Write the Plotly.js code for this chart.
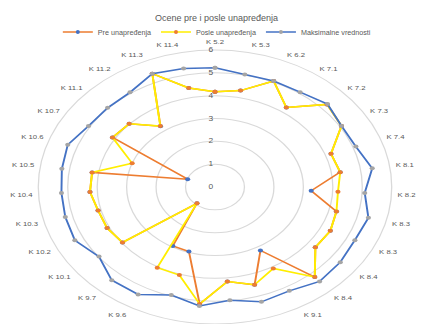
<!DOCTYPE html>
<html>
<head>
<meta charset="utf-8">
<script src="https://cdn.plot.ly/plotly-3.0.1.min.js"></script>
<style>
html,body{margin:0;padding:0;background:#fff;}
#chart{width:422px;height:324px;}
</style>
</head>
<body>
<div id="chart"></div>
<script>
// ---- data ----
var categories = ['K 5.2','K 5.3','K 6.2','K 7.1','K 7.2','K 7.3','K 7.4','K 8.1','K 8.2','K 8.3','K 8.3','K 8.4','K 8.4','K 9.1','K 9.2','K 9.3','K 9.4','K 9.5','K 9.6','K 9.7','K 10.1','K 10.2','K 10.3','K 10.4','K 10.5','K 10.6','K 10.7','K 11.1','K 11.2','K 11.3','K 11.4'];
var preValues   = [4.17,4.31,5.05,4.24,5.25,5.06,4.2,4.3,3.27,4.26,4.36,4.31,5.2,3.18,4.49,4.16,5.15,2.96,2.95,0.94,3.97,4.08,4.1,4.25,4.22,0.99,4.1,4.02,3.24,5.4,4.43];
var posleValues = [4.17,4.31,5.05,4.24,5.25,5.06,4.2,4.3,4.18,4.26,4.36,4.31,5.2,4.08,4.49,4.16,5.15,4.04,4.04,0.94,3.97,4.08,4.1,4.25,4.22,3.0,4.1,4.02,3.25,5.4,4.43];
var maxValues   = [5.22,5.03,5.05,5.06,5.27,5.06,5.1,5.4,5.09,5.38,5.29,5.38,5.45,5.2,5.27,4.99,5.24,4.96,5.38,5.38,4.98,5.3,5.25,5.22,5.26,5.33,5.06,5.03,5.05,5.4,5.3];
var radialTicks = [0,1,2,3,4,5,6];
var seriesNames = ['Pre unapređenja','Posle unapređenja','Maksimalne vrednosti'];

// ---- build ----
var n = categories.length;
var step = 360 / n;
var thetaIdx = categories.map(function(c,i){ return i*step; });
function closed(arr){ return arr.concat([arr[0]]); }
var thetaClosed = closed(thetaIdx);

var textColor = '#595959';
var font = 'Liberation Sans, Arial, sans-serif';

var traces = [
  {type:'scatterpolar', name:seriesNames[0], r:closed(preValues), theta:thetaClosed,
   mode:'lines+markers', line:{color:'#ED7D31', width:1.5},
   marker:{color:'#4472C4', size:4, symbol:'circle'}},
  {type:'scatterpolar', name:seriesNames[1], r:closed(posleValues), theta:thetaClosed,
   mode:'lines+markers', line:{color:'#FFEE00', width:1.5},
   marker:{color:'#ED7D31', size:4, symbol:'circle'}},
  {type:'scatterpolar', name:seriesNames[2], r:closed(maxValues), theta:thetaClosed,
   mode:'lines+markers', line:{color:'#4472C4', width:1.5},
   marker:{color:'#A5A5A5', size:4, symbol:'circle'}}
];

var cx = 215, cyTop = 187, R = 137, W = 422, H = 324;
var layout = {
  width:W, height:H,
  margin:{l:0,r:0,t:0,b:0},
  paper_bgcolor:'#fff',
  font:{family:font, color:textColor},
  title:{text:'Ocene pre i posle unapređenja', font:{size:9, color:textColor, family:font},
         x:0.513, xref:'paper', xanchor:'center', y:1-18/H, yref:'paper', yanchor:'middle'},
  showlegend:true,
  legend:{orientation:'h', x:0.515, xanchor:'center', y:1-32/H, yanchor:'middle',
          font:{size:7.2, color:textColor, family:font}, itemwidth:30, tracegroupgap:0,
          bgcolor:'rgba(0,0,0,0)'},
  polar:{
    domain:{x:[(cx-R)/W,(cx+R)/W], y:[(H-cyTop-R)/H,(H-cyTop+R)/H]},
    bgcolor:'rgba(0,0,0,0)',
    radialaxis:{range:[0,6], tickmode:'array', tickvals:radialTicks, ticktext:radialTicks.map(String),
                angle:90, tickangle:90, side:'counterclockwise', showline:false, ticks:'',
                gridcolor:'#D9D9D9', gridwidth:1, tickfont:{size:6.5,color:textColor,family:font}},
    angularaxis:{type:'linear', thetaunit:'degrees', direction:'clockwise', rotation:90,
                 tickmode:'array', tickvals:thetaIdx, ticktext:categories,
                 showgrid:false, showline:true, linecolor:'#D9D9D9', linewidth:1,
                 ticks:'outside', ticklen:3, tickcolor:'rgba(0,0,0,0)',
                 tickfont:{size:6,color:textColor,family:font}}
  }
};

Plotly.newPlot('chart', traces, layout, {displayModeBar:false, staticPlot:true}).then(function(){
  var s = 1.29;
  var layers = document.querySelectorAll('#chart .polarlayer');
  layers.forEach(function(g){
    g.setAttribute('transform','translate(' + (cx*(1-s)) + ',0) scale(' + s + ',1)');
  });
});
</script>
</body>
</html>
